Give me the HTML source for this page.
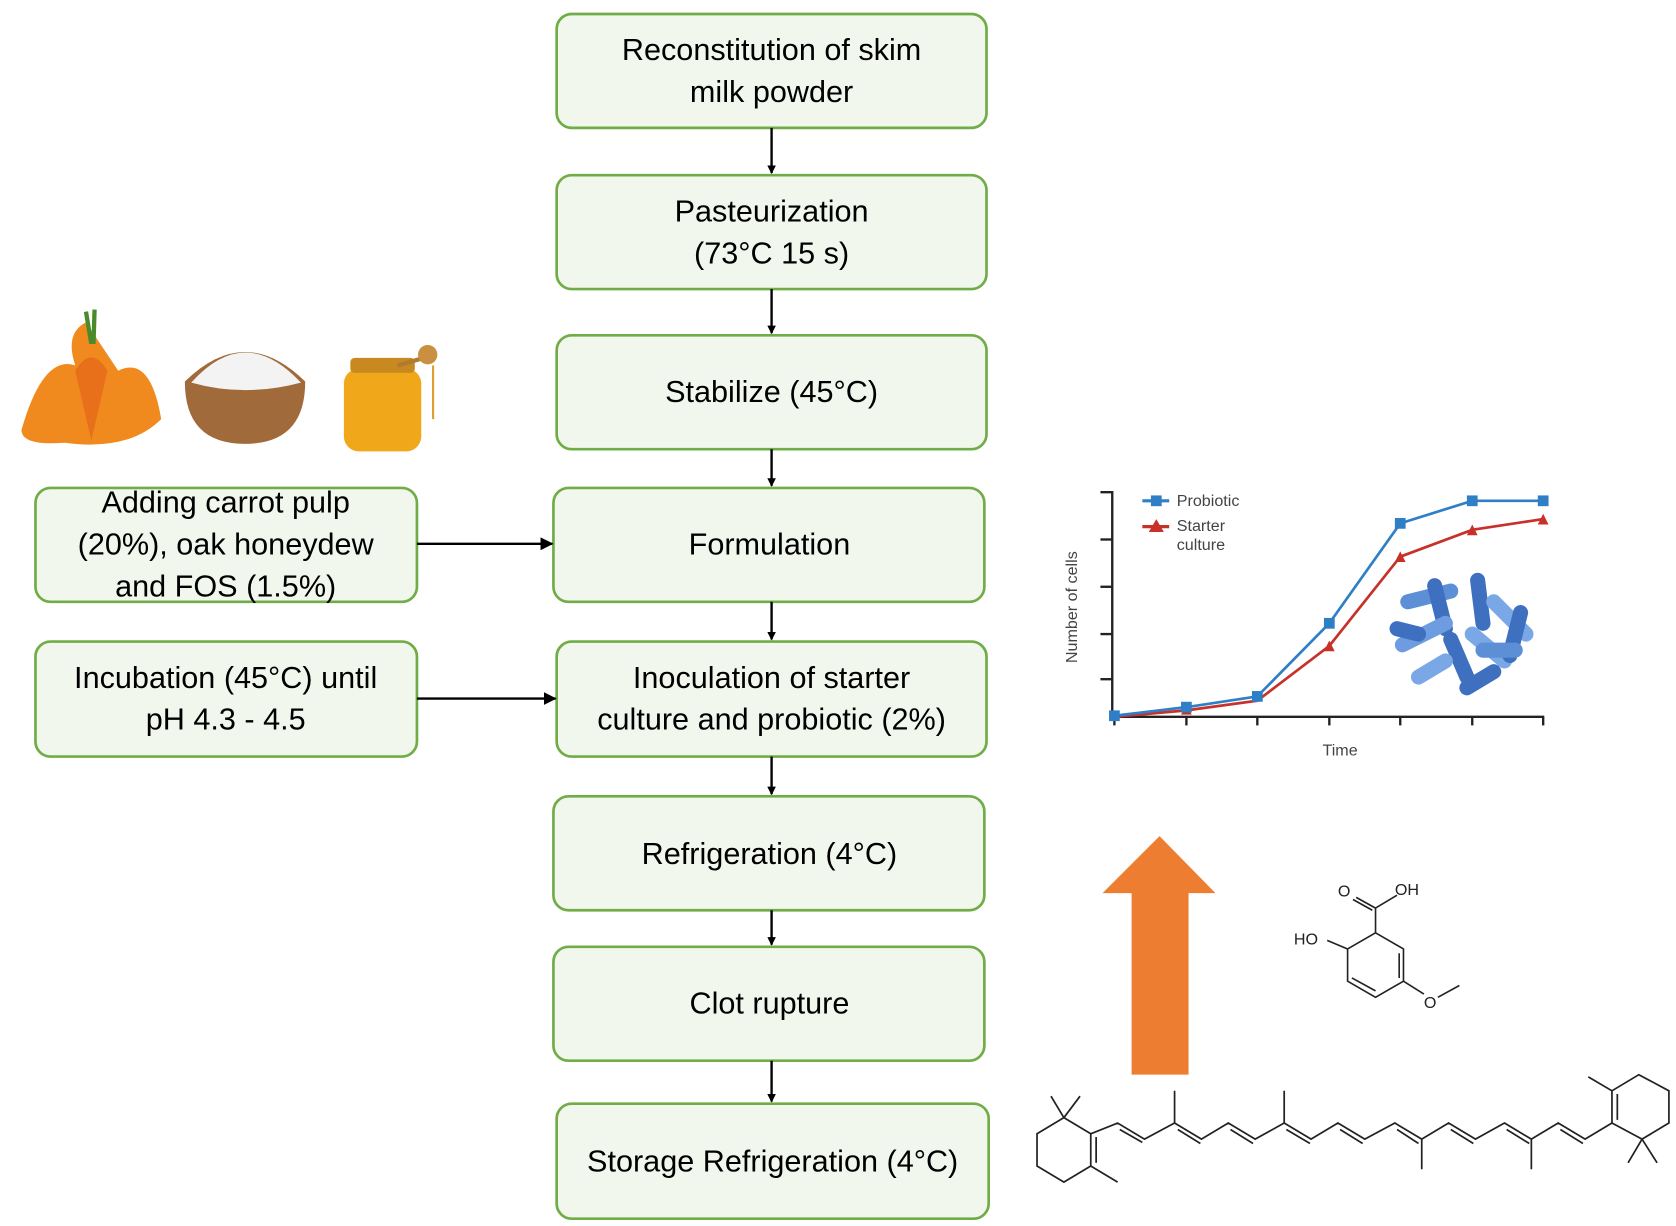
<!DOCTYPE html>
<html><head><meta charset="utf-8"><style>
html,body{margin:0;padding:0;background:#fff;}
svg{display:block;}
text{font-family:"Liberation Sans",sans-serif;}
</style></head><body>
<svg width="1676" height="1226" viewBox="0 0 1559.6 1140.8" preserveAspectRatio="none" xmlns="http://www.w3.org/2000/svg">
<defs><marker id="ah" markerWidth="8" markerHeight="8" refX="7" refY="4" orient="auto" markerUnits="userSpaceOnUse"><path d="M0,0 L8,4 L0,8 z" fill="#000"/></marker>
<marker id="ah2" markerWidth="12" markerHeight="12" refX="11" refY="6" orient="auto" markerUnits="userSpaceOnUse"><path d="M0,0 L12,6 L0,12 z" fill="#000"/></marker></defs>
<g fill="#f2f7ee" stroke="#70ad47" stroke-width="2.5">
<rect x="518" y="13" width="400" height="106" rx="14"/>
<rect x="518" y="163" width="400" height="106" rx="14"/>
<rect x="518" y="312" width="400" height="106" rx="14"/>
<rect x="515" y="454" width="401" height="106" rx="14"/>
<rect x="518" y="597" width="400" height="107" rx="14"/>
<rect x="515" y="741" width="401" height="106" rx="14"/>
<rect x="515" y="881" width="401" height="106" rx="14"/>
<rect x="518" y="1027" width="402" height="107" rx="14"/>
<rect x="33" y="454" width="355" height="106" rx="14"/>
<rect x="33" y="597" width="355" height="107" rx="14"/>
</g>
<g font-size="28.5" text-anchor="middle" fill="#000">
<text x="718" y="56">Reconstitution of skim</text><text x="718" y="95">milk powder</text>
<text x="718" y="206">Pasteurization</text><text x="718" y="245">(73°C 15 s)</text>
<text x="718" y="374">Stabilize (45°C)</text>
<text x="716" y="516">Formulation</text>
<text x="718" y="640">Inoculation of starter</text><text x="718" y="679">culture and probiotic (2%)</text>
<text x="716" y="804">Refrigeration (4°C)</text>
<text x="716" y="943">Clot rupture</text>
<text x="719" y="1090">Storage Refrigeration (4°C)</text>
<text x="210" y="477">Adding carrot pulp</text><text x="210" y="516">(20%), oak honeydew</text><text x="210" y="555">and FOS (1.5%)</text>
<text x="210" y="640">Incubation (45°C) until</text><text x="210" y="679">pH 4.3 - 4.5</text>
</g>
<g stroke="#000" stroke-width="2.2">
<line x1="718" y1="119" x2="718" y2="161" marker-end="url(#ah)"/>
<line x1="718" y1="269" x2="718" y2="310" marker-end="url(#ah)"/>
<line x1="718" y1="418" x2="718" y2="452" marker-end="url(#ah)"/>
<line x1="718" y1="560" x2="718" y2="595" marker-end="url(#ah)"/>
<line x1="718" y1="704" x2="718" y2="739" marker-end="url(#ah)"/>
<line x1="718" y1="847" x2="718" y2="879" marker-end="url(#ah)"/>
<line x1="718" y1="987" x2="718" y2="1025" marker-end="url(#ah)"/>
<line x1="388" y1="506" x2="514" y2="506" marker-end="url(#ah2)"/>
<line x1="388" y1="650" x2="517" y2="650" marker-end="url(#ah2)"/>
</g>
<g>
<path d="M20,400 Q40,330 70,340 Q60,310 80,300 Q100,330 110,345 Q140,330 150,390 Q120,420 60,412 Q20,415 20,400z" fill="#f08a1e"/>
<path d="M70,345 L85,410 L100,345 Q85,320 70,345z" fill="#e8701a"/>
<path d="M80,290 L85,320 M88,288 L87,320" stroke="#4a8a2a" stroke-width="4"/>
<path d="M172,355 Q228,300 284,355 Q284,413 228,413 Q172,413 172,355z" fill="#a06a3a"/>
<path d="M178,356 Q228,300 280,356 Q228,370 178,356z" fill="#f3f3f3"/>
<rect x="320" y="343" width="72" height="77" rx="14" fill="#f0a81a"/>
<rect x="326" y="333" width="60" height="14" rx="4" fill="#c88a20"/>
<line x1="370" y1="340" x2="405" y2="330" stroke="#b07a30" stroke-width="4"/>
<circle cx="398" cy="330" r="9" fill="#c89040"/>
<line x1="403" y1="340" x2="403" y2="390" stroke="#e0a030" stroke-width="2"/>
</g>
<g stroke="#222" stroke-width="2.2" fill="none">
<polyline points="1024,458 1035,458 1035,667 1437,667"/>
<line x1="1024" y1="502" x2="1035" y2="502"/><line x1="1024" y1="546" x2="1035" y2="546"/>
<line x1="1024" y1="590" x2="1035" y2="590"/><line x1="1024" y1="632" x2="1035" y2="632"/>
<line x1="1037" y1="667" x2="1037" y2="675"/><line x1="1104" y1="667" x2="1104" y2="675"/><line x1="1170" y1="667" x2="1170" y2="675"/><line x1="1237" y1="667" x2="1237" y2="675"/><line x1="1303" y1="667" x2="1303" y2="675"/><line x1="1370" y1="667" x2="1370" y2="675"/><line x1="1436" y1="667" x2="1436" y2="675"/>
</g>
<g font-size="15" fill="#444">
<text x="1247" y="703" text-anchor="middle">Time</text>
<text transform="translate(1002,565) rotate(-90)" text-anchor="middle">Number of cells</text>
<text x="1095" y="471">Probiotic</text><text x="1095" y="494">Starter</text><text x="1095" y="512">culture</text>
</g>
<line x1="1063" y1="466" x2="1088" y2="466" stroke="#2e7fc6" stroke-width="3"/><rect x="1071" y="461" width="10" height="10" fill="#2e7fc6"/>
<line x1="1063" y1="490" x2="1088" y2="490" stroke="#c8302a" stroke-width="3"/><path d="M1069,495 L1076,483 L1083,495z" fill="#c8302a"/>
<g stroke-linecap="round" stroke-width="14">
<line x1="1310" y1="560" x2="1350" y2="550" stroke="#5d8fd6"/>
<line x1="1335" y1="545" x2="1345" y2="585" stroke="#3f6fbf"/>
<line x1="1375" y1="540" x2="1380" y2="580" stroke="#3f6fbf"/>
<line x1="1390" y1="560" x2="1420" y2="590" stroke="#7aa8e6"/>
<line x1="1305" y1="600" x2="1345" y2="580" stroke="#6d9ce0"/>
<line x1="1350" y1="595" x2="1365" y2="630" stroke="#3f6fbf"/>
<line x1="1370" y1="590" x2="1400" y2="615" stroke="#7aa8e6"/>
<line x1="1415" y1="570" x2="1405" y2="610" stroke="#3f6fbf"/>
<line x1="1320" y1="630" x2="1345" y2="615" stroke="#7aa8e6"/>
<line x1="1365" y1="640" x2="1390" y2="625" stroke="#3f6fbf"/>
<line x1="1300" y1="585" x2="1320" y2="590" stroke="#3f6fbf"/>
<line x1="1380" y1="605" x2="1410" y2="605" stroke="#5d8fd6"/>
</g>
<polyline points="1037,667 1104,661 1170,652 1237,601 1303,518 1370,493 1436,483" fill="none" stroke="#c8302a" stroke-width="2.5"/>
<polyline points="1037,666 1104,658 1170,648 1237,580 1303,487 1370,466 1436,466" fill="none" stroke="#2e7fc6" stroke-width="2.5"/>
<g fill="#c8302a"><path d="M1099,665 L1104,656 L1109,665z"/><path d="M1232,606 L1237,596 L1242,606z"/><path d="M1298,523 L1303,513 L1308,523z"/><path d="M1365,498 L1370,488 L1375,498z"/><path d="M1431,488 L1436,478 L1441,488z"/></g>
<g fill="#2e7fc6"><rect x="1032" y="661" width="10" height="10"/><rect x="1099" y="653" width="10" height="10"/><rect x="1165" y="643" width="10" height="10"/><rect x="1232" y="575" width="10" height="10"/><rect x="1298" y="482" width="10" height="10"/><rect x="1365" y="461" width="10" height="10"/><rect x="1431" y="461" width="10" height="10"/></g>
<path d="M1079,778 L1131,831 L1106,831 L1106,1000 L1053,1000 L1053,831 L1026,831z" fill="#ed7d31"/>
<g stroke="#222" stroke-width="1.5" fill="none">
<path d="M1280,868 L1306,883 L1306,913 L1280,928 L1254,913 L1254,883z"/>
<path d="M1302,887 L1302,910 M1258,910 L1280,922"/>
<path d="M1280,868 L1280,845 L1300,833 M1280,845 L1262,835 M1277,847 L1259,837"/>
<path d="M1254,883 L1235,875 M1306,913 L1325,925 M1338,928 L1358,917"/>
</g>
<g font-size="15" fill="#222"><text x="1245" y="834">O</text><text x="1298" y="833">OH</text><text x="1204" y="879">HO</text><text x="1325" y="938">O</text></g>
<g stroke="#222" stroke-width="1.6" fill="none">
<path d="M1015,1055 L1015,1085 L990,1100 L965,1085 L965,1055 L990,1040 z"/>
<path d="M1020,1058 L1020,1082"/>
<path d="M990,1040 L978,1020 M990,1040 L1005,1020 M1015,1085 L1040,1100"/>
<path d="M1015,1055 L1040,1045 L1065,1060 L1093,1045 L1118,1060 L1143,1045 L1168,1060 L1195,1045 L1220,1060 L1245,1045 L1270,1060 L1298,1045 L1323,1060 L1348,1045 L1373,1060 L1400,1045 L1425,1060 L1450,1045 L1475,1060 L1500,1045"/>
<path d="M1042,1051 L1063,1063 M1096,1051 L1117,1064 M1145,1051 L1166,1064 M1197,1051 L1219,1064 M1247,1051 L1268,1064 M1300,1051 L1320,1064 M1350,1051 L1371,1064 M1402,1051 L1423,1064 M1452,1051 L1473,1064"/>
<path d="M1093,1045 L1093,1015 M1195,1045 L1195,1015 M1323,1060 L1323,1088 M1425,1060 L1425,1088"/>
<path d="M1500,1045 L1500,1015 L1525,1000 L1553,1015 L1553,1045 L1528,1060 z"/>
<path d="M1505,1018 L1505,1042 M1500,1015 L1478,1002 M1528,1060 L1515,1082 M1528,1060 L1542,1082"/>
</g>
</svg>
</body></html>
